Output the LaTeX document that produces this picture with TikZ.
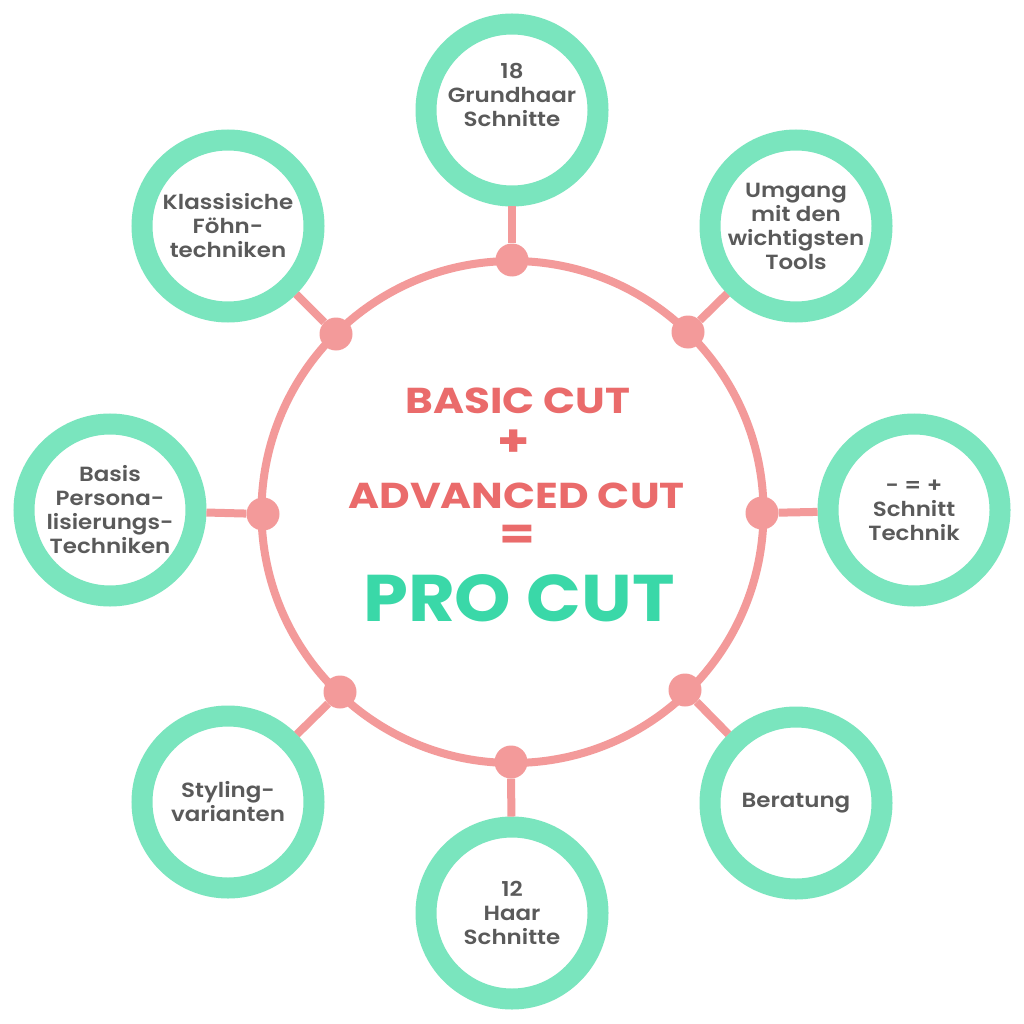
\documentclass[tikz,border=0pt]{standalone}
\usepackage{fontspec}
\setmainfont{Poppins}[UprightFont=* Medium, BoldFont=* SemiBold]
\newfontfamily\labelfont{Poppins}[UprightFont=* SemiBold, FakeStretch=1.12]
\newfontfamily\headfontA{Poppins}[UprightFont=* Bold, FakeStretch=1.17]
\newfontfamily\headfontB{Poppins}[UprightFont=* Bold, FakeStretch=1.09]
\definecolor{ringgreen}{HTML}{7AE5BE}
\definecolor{linkpink}{HTML}{F39A9A}
\definecolor{titlepink}{HTML}{EA6B6B}
\definecolor{progreen}{HTML}{3AD8A8}
\definecolor{labelgray}{HTML}{5A5A5A}
\begin{document}
\begin{tikzpicture}[x=1pt,y=-1pt,
  topic/.style={circle, draw=ringgreen, line width=21pt, minimum size=172pt,
    inner sep=0pt, align=center, text=labelgray, fill=white,
    font=\labelfont\fontsize{20.5}{24}\selectfont},
  hub/.style={circle, fill=linkpink, minimum size=33pt, inner sep=0pt},
  link/.style={draw=linkpink, line width=8pt},
  headline/.style={font=\headfontA\fontsize{36}{36}\selectfont, text=titlepink, inner sep=0pt, anchor=base},
  opsign/.style={font=\headfontA\fontsize{44}{44}\selectfont, text=titlepink, inner sep=0pt},
]
\useasboundingbox (0,0) rectangle (1024,1024);
\fill[white] (0,0) rectangle (1024,1024);

\node[circle, draw=linkpink, line width=8pt, minimum size=502pt, inner sep=0pt] (core) at (512.5,512) {};

% hubs on the ring
\node[hub] (h1) at (512,260) {};
\node[hub] (h2) at (688,332) {};
\node[hub] (h3) at (762,513) {};
\node[hub] (h4) at (685,690) {};
\node[hub] (h5) at (511,762) {};
\node[hub] (h6) at (340,692) {};
\node[hub] (h7) at (263,514) {};
\node[hub] (h8) at (336,334) {};

% topics
\node[topic] (c1) at (512,110) {18\\Grundhaar\\Schnitte\\[6pt]};
\node[topic] (c2) at (796,226) {Umgang\\mit den\\wichtigsten\\Tools};
\node[topic] (c3) at (914,510) {- = +\\Schnitt\\Technik};
\node[topic] (c4) at (796,803) {Beratung};
\node[topic] (c5) at (512,913) {12\\Haar\\Schnitte};
\node[topic] (c6) at (228,802) {Styling-\\varianten};
\node[topic] (c7) at (110,510) {Basis\\Persona-\\lisierungs-\\Techniken};
\node[topic] (c8) at (228,226) {Klassisiche\\Föhn-\\techniken};

% connectors
\foreach \i in {1,...,8} { \draw[link] (h\i) -- (c\i); }

% centre text
\node[headline] (basic) at (518,413) {BASIC CUT};
\node[opsign] (plus) at (513.5,443) {+};
\node[headline] (adv) at (516.5,508) {ADVANCED CUT};
\node[opsign] (eq) at (517,537) {=};
\node[font=\headfontB\fontsize{66}{66}\selectfont, text=progreen, inner sep=0pt, anchor=base] (pro) at (519,621) {PRO CUT};
\end{tikzpicture}
\end{document}
